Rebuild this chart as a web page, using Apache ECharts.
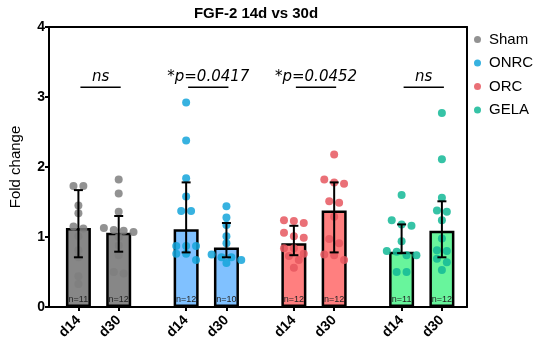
<!DOCTYPE html>
<html><head><meta charset="utf-8">
<script src="https://cdn.jsdelivr.net/npm/echarts@6/dist/echarts.min.js"></script>
<style>html,body{margin:0;padding:0;background:#fff}#c{width:550px;height:358px}</style>
</head><body><div id="c"></div><script>
// ---------- data ----------
const groups = ['Sham', 'ONRC', 'ORC', 'GELA'];
const timepoints = ['d14', 'd30'];
const yTicks = [0, 1, 2, 3, 4];
const titleText = 'FGF-2 14d vs 30d';
const yAxisTitle = 'Fold change';
const comparisons = ['ns', '*p=0.0417', '*p=0.0452', 'ns'];

const shamD14 = [1.73, 1.73, 1.45, 1.34, 1.15, 1.12, 1.01, 0.81, 0.71, 0.44, 0.33];
const shamD30 = [1.82, 1.62, 1.36, 1.13, 1.10, 1.09, 1.07, 1.00, 0.88, 0.74, 0.50, 0.48];
const onrcD14 = [2.92, 2.38, 1.84, 1.58, 1.37, 1.37, 0.87, 0.87, 0.87, 0.76, 0.76, 0.67];
const onrcD30 = [1.44, 1.28, 1.17, 1.01, 0.91, 0.75, 0.71, 0.71, 0.67, 0.63];
const orcD14  = [1.24, 1.23, 1.20, 1.06, 1.01, 0.99, 0.84, 0.84, 0.76, 0.73, 0.67, 0.56];
const orcD30  = [2.18, 1.82, 1.78, 1.76, 1.51, 1.49, 1.29, 0.97, 0.91, 0.75, 0.74, 0.67];
const gelaD14 = [1.60, 1.24, 1.18, 1.16, 0.94, 0.80, 0.79, 0.74, 0.74, 0.50, 0.50];
const gelaD30 = [2.77, 2.11, 1.56, 1.38, 1.36, 1.24, 0.98, 0.81, 0.80, 0.69, 0.64, 0.53];

const meanD14 = [1.13, 1.11, 0.91, 0.79];
const meanD30 = [1.06, 0.85, 1.38, 1.09];
const errHighD14 = [1.67, 1.78, 1.16, 1.18];
const errLowD14  = [0.71, 0.78, 0.74, 0.77];
const errHighD30 = [1.30, 1.20, 1.78, 1.51];
const errLowD30  = [0.79, 0.71, 0.78, 0.71];

// ---------- styles / layout ----------
const dotColors = ['#7f7f7f', '#14a4da', '#e6575f', '#13b997'];
const barColors = ['#878787', '#80c1ff', '#ff7f7f', '#68f59c'];
const FONT = '"Liberation Sans", Arial, sans-serif';
const pairOff = 0.187;
const X_MIN = -0.46, X_MAX = 3.42;
const gridL = 44, gridR = 83, gridT = 27, gridB = 51;
const plotW = 550 - gridL - gridR, plotH = 358 - gridT - gridB;
const xUnitPerPx = (X_MAX - X_MIN) / plotW;
const yUnitPerPx = 4 / plotH;

const raw = [[shamD14, shamD30], [onrcD14, onrcD30], [orcD14, orcD30], [gelaD14, gelaD30]];
const means = [meanD14, meanD30], highs = [errHighD14, errHighD30], lows = [errLowD14, errLowD30];

// rows-of-dots layout (GraphPad-like scatter)
function swarm(values, cx) {
  const s = values.slice().sort((a, b) => b - a);
  const thr = 6.5 * yUnitPerPx, step = 10 * xUnitPerPx;
  const out = []; let row = [];
  const flush = () => { row.forEach((v, i) => out.push([cx + (i - (row.length - 1) / 2) * step, v])); row = []; };
  s.forEach(v => { if (row.length && row[0] - v >= thr) flush(); row.push(v); });
  flush();
  return out;
}

const barData = [], errData = [], positions = [];
groups.forEach((g, gi) => {
  timepoints.forEach((t, ti) => {
    const x = gi + (ti === 0 ? -pairOff : pairOff);
    positions.push(x);
    barData.push({ value: [x, means[ti][gi]], n: raw[gi][ti].length, itemStyle: { color: barColors[gi] } });
    errData.push([x, highs[ti][gi], lows[ti][gi]]);
  });
});

const scatterSeries = groups.map((g, gi) => ({
  name: g, type: 'scatter', z: 3, symbolSize: 8,
  itemStyle: { color: dotColors[gi], opacity: 0.85 },
  data: swarm(raw[gi][0], gi - pairOff).concat(swarm(raw[gi][1], gi + pairOff))
}));

const chart = echarts.init(document.getElementById('c'), null, { renderer: 'canvas' });
chart.setOption({
  animation: false,
  textStyle: { fontFamily: FONT },
  grid: { left: gridL, right: gridR, top: gridT, bottom: gridB },
  graphic: [{ type: 'text', style: { text: titleText, x: 256, y: 14, align: 'center', verticalAlign: 'middle', font: 'bold 15px ' + FONT, fill: '#000' } }],
  legend: {
    orient: 'vertical', left: 469, top: 27, itemWidth: 7, itemHeight: 7, itemGap: 8.5,
    icon: 'circle', data: groups,
    textStyle: { fontSize: 15, color: '#000', fontFamily: FONT, lineHeight: 15, padding: [0, 0, 0, 3] }
  },
  xAxis: [{
    type: 'value', min: X_MIN, max: X_MAX, splitLine: { show: false },
    axisLine: { show: true, onZero: false, lineStyle: { color: '#000', width: 2 } },
    axisTick: { show: true, customValues: positions, length: 4, lineStyle: { color: '#000', width: 2 } },
    axisLabel: {
      customValues: positions, rotate: 45, margin: 11, color: '#000', fontWeight: 'bold', fontSize: 14,
      formatter: v => (v - Math.round(v) < 0 ? timepoints[0] : timepoints[1])
    }
  }, {
    type: 'value', position: 'top', min: X_MIN, max: X_MAX, splitLine: { show: false },
    axisLine: { show: true, onZero: false, lineStyle: { color: '#000', width: 2 } },
    axisTick: { show: false }, axisLabel: { show: false }
  }],
  yAxis: [{
    type: 'value', min: yTicks[0], max: yTicks[yTicks.length - 1], interval: 1, splitLine: { show: false },
    name: yAxisTitle, nameLocation: 'middle', nameGap: 26, nameTextStyle: { fontSize: 15, color: '#000' },
    axisLine: { show: true, onZero: false, lineStyle: { color: '#000', width: 2 } },
    axisTick: { show: true, length: 4, lineStyle: { color: '#000', width: 2 } },
    axisLabel: { color: '#000', fontWeight: 'bold', fontSize: 14, margin: 4 }
  }, {
    type: 'value', position: 'right', min: 0, max: 4, splitLine: { show: false },
    axisLine: { show: true, onZero: false, lineStyle: { color: '#000', width: 2 } },
    axisTick: { show: false }, axisLabel: { show: false }
  }],
  series: [{
    type: 'bar', z: 1, barWidth: 25, data: barData,
    itemStyle: { borderColor: '#000', borderWidth: 2.5 },
    label: { show: true, position: 'insideBottom', distance: 3, fontSize: 9, color: '#222',
      formatter: p => 'n=' + p.data.n }
  }].concat(scatterSeries).concat([{
    type: 'custom', z: 4, data: errData,
    renderItem: (params, api) => {
      const x = api.value(0);
      const a = api.coord([x, api.value(1)]), b = api.coord([x, api.value(2)]);
      const st = { stroke: '#000', lineWidth: 2 };
      return { type: 'group', children: [
        { type: 'line', shape: { x1: a[0], y1: a[1], x2: b[0], y2: b[1] }, style: st },
        { type: 'line', shape: { x1: a[0] - 4.5, y1: a[1], x2: a[0] + 4.5, y2: a[1] }, style: st },
        { type: 'line', shape: { x1: b[0] - 4.5, y1: b[1], x2: b[0] + 4.5, y2: b[1] }, style: st }
      ] };
    }
  }, {
    type: 'custom', z: 4, data: groups.map((g, gi) => [gi, 3.14]),
    renderItem: (params, api) => {
      const gi = api.value(0);
      const l = api.coord([gi - pairOff, api.value(1)]), r = api.coord([gi + pairOff, api.value(1)]);
      return { type: 'group', children: [
        { type: 'line', shape: { x1: l[0] + 2, y1: l[1], x2: r[0] + 2, y2: r[1] }, style: { stroke: '#000', lineWidth: 1.5 } },
        { type: 'text', style: { text: comparisons[params.dataIndex], x: (l[0] + r[0]) / 2 + 2, y: l[1] - 10,
          align: 'center', verticalAlign: 'middle', font: 'italic 15px "DejaVu Sans", Verdana, sans-serif', fill: '#000' } }
      ] };
    }
  }])
});
</script></body></html>
